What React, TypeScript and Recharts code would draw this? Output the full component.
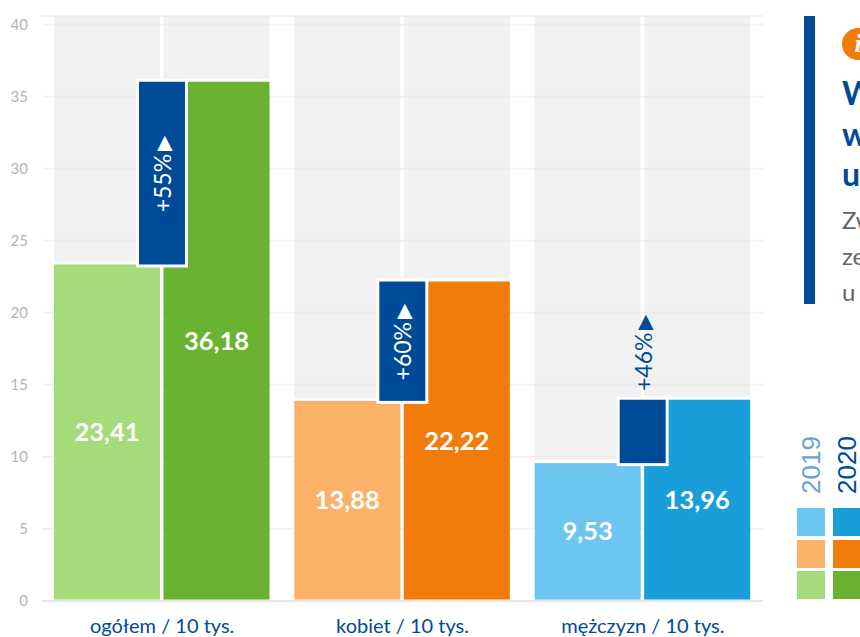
import React from "react";
import { ComposedChart, Bar, XAxis, YAxis, CartesianGrid, Cell, LabelList } from "recharts";

const categories = ["ogółem / 10 tys.", "kobiet / 10 tys.", "mężczyzn / 10 tys."];
const values2019 = [23.41, 13.88, 9.53];
const values2020 = [36.18, 22.22, 13.96];
const changes = ["+55%", "+60%", "+46%"];
const colors2019 = ["#a4dc7c", "#fcb168", "#6dc6f0"];
const colors2020 = ["#69b331", "#f27c09", "#1a9ed9"];
const yTicks = [0, 5, 10, 15, 20, 25, 30, 35, 40];
const legendYears = ["2019", "2020"];
const legendYearColors = ["#6b9fd8", "#004b97"];
const legendRows = [2, 1, 0];
const panelHeading = ["W", "w", "u"];
const panelBody = ["Zw", "ze", "u"];

const BLUE = "#004b97";
const data = categories.map((name, i) => ({
  name,
  a: values2019[i],
  b: values2020[i],
  range: [values2019[i], values2020[i]],
  change: changes[i],
}));
const fmt = (v: number) => String(v.toFixed(2)).replace(".", ",");

const ValueBar = (props: any) => {
  const { x, y, width, height, fill } = props;
  return (
    <g>
      <rect x={x} y={y - 3} width={width} height={3} fill="#fff" />
      <rect x={x} y={y} width={width} height={height} fill={fill} />
    </g>
  );
};

const DeltaBar = (props: any) => {
  const { x, y, width, height, payload } = props;
  const cx = x + width / 2;
  const inside = height > 100;
  const cy = inside ? y + height / 2 + 1 : y - 47;
  return (
    <g>
      <rect x={x - 3} y={y - 3} width={width + 6} height={height + 6} fill="#fff" />
      <rect x={x} y={y} width={width} height={height} fill={BLUE} />
      <text
        x={cx}
        y={cy}
        transform={`rotate(-90 ${cx} ${cy})`}
        textAnchor="middle"
        dominantBaseline="central"
        fontFamily="Lato"
        fontSize={23}
        fill={inside ? "#fff" : BLUE}
      >
        {payload.change}
        <tspan dx={3} fontSize={20}>▶</tspan>
      </text>
    </g>
  );
};

const bg = { fill: "#e8e8e8", fillOpacity: 0.6 };
const labelStyle = { fill: "#fff", fontFamily: "Lato", fontSize: 25.5, fontWeight: 700 };

export default function App() {
  return (
    <div style={{ position: "fixed", left: 0, top: 0, width: 860, height: 637, overflow: "hidden", background: "#fff" }}>
      <ComposedChart
        width={860}
        height={637}
        data={data}
        margin={{ top: 16, right: 97, bottom: 0, left: 0 }}
        barGap={3.5}
      >
        <CartesianGrid vertical={false} stroke="#f3f3f3" strokeWidth={2} yAxisId="main" xAxisId="main" />
        <XAxis
          xAxisId="main"
          dataKey="name"
          height={36}
          tickLine={false}
          axisLine={{ stroke: "#e6e6e6", strokeWidth: 2 }}
          tick={{ fill: BLUE, fontFamily: "Lato", fontSize: 20 }}
          tickMargin={12}
          interval={0}
        />
        <XAxis xAxisId="delta" dataKey="name" hide height={0} />
        <YAxis
          yAxisId="main"
          width={42}
          domain={[0, 40.6]}
          ticks={yTicks}
          allowDataOverflow
          tickLine={false}
          axisLine={false}
          tickMargin={8}
          tick={{ fill: "#b4b4b4", fontFamily: "Lato", fontSize: 15 }}
        />
        <YAxis yAxisId="bars" hide width={0} domain={[-0.105, 40.775]} allowDataOverflow />
        <Bar xAxisId="main" yAxisId="bars" dataKey="a" barSize={106} background={bg} shape={ValueBar} isAnimationActive={false}>
          {colors2019.map((c) => <Cell key={c} fill={c} />)}
          <LabelList dataKey="a" position="center" formatter={fmt} style={labelStyle} />
        </Bar>
        <Bar xAxisId="main" yAxisId="bars" dataKey="b" barSize={106} background={bg} shape={ValueBar} isAnimationActive={false}>
          {colors2020.map((c) => <Cell key={c} fill={c} />)}
          <LabelList dataKey="b" position="center" formatter={fmt} style={labelStyle} />
        </Bar>
        <Bar xAxisId="delta" yAxisId="bars" dataKey="range" barSize={46} shape={DeltaBar} isAnimationActive={false} />
      </ComposedChart>

      <div style={{ position: "absolute", left: 804, top: 16, width: 11, height: 288, background: BLUE }} />
      <div style={{ position: "absolute", left: 842, top: 28, width: 32, height: 32, borderRadius: 16, background: "#f27c09", color: "#fff", fontFamily: "'Liberation Serif'", fontStyle: "italic", fontWeight: 700, fontSize: 26, lineHeight: "32px", textAlign: "center" }}>i</div>
      {panelHeading.map((t, i) => (
        <div key={i} style={{ position: "absolute", left: 842, top: 73 + i * 40.5, fontFamily: "Lato", fontWeight: 700, fontSize: 32, lineHeight: "40px", color: BLUE }}>{t}</div>
      ))}
      {panelBody.map((t, i) => (
        <div key={i} style={{ position: "absolute", left: 842, top: 202 + i * 36, fontFamily: "Lato", fontSize: 24, lineHeight: "36px", color: "#666" }}>{t}</div>
      ))}

      {legendYears.map((y, i) => (
        <div key={y} style={{ position: "absolute", left: 811 + i * 36 - 30, top: 464 - 13, width: 60, height: 26, lineHeight: "26px", textAlign: "left", transform: "rotate(-90deg)", fontFamily: "'Liberation Sans'", fontSize: 26, color: legendYearColors[i], whiteSpace: "nowrap" }}>{y}</div>
      ))}
      {legendRows.map((r, row) => (
        [colors2019, colors2020].map((cols, c) => (
          <div key={`${row}-${c}`} style={{ position: "absolute", left: 797 + c * 36, top: 508 + row * 31.5, width: 28, height: 28, background: cols[r] }} />
        ))
      ))}
    </div>
  );
}
